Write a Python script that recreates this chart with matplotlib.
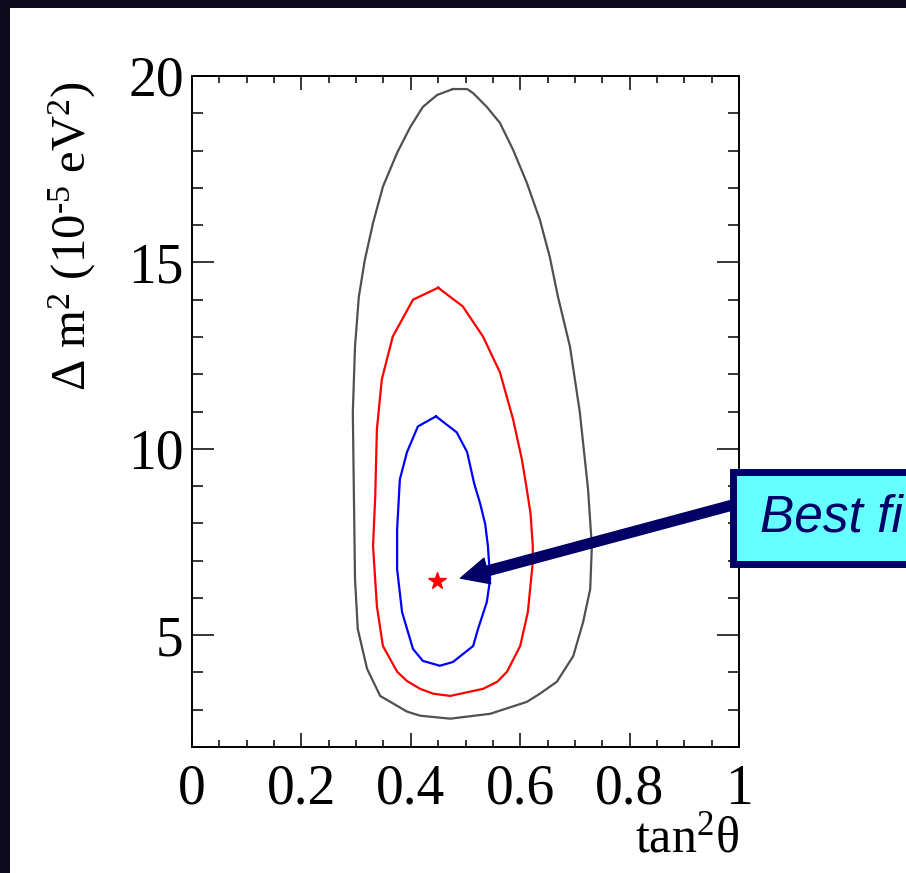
import numpy as np
import matplotlib
matplotlib.use("Agg")
import matplotlib.pyplot as plt
from matplotlib.patches import Rectangle, FancyArrowPatch, ArrowStyle
from matplotlib.ticker import MultipleLocator, FuncFormatter

plt.rcParams['font.family'] = ['Liberation Serif', 'DejaVu Serif']
plt.rcParams['mathtext.fontset'] = 'custom'
plt.rcParams['mathtext.rm'] = 'Liberation Serif'
plt.rcParams['mathtext.it'] = 'Liberation Serif:italic'
plt.rcParams['mathtext.default'] = 'rm'

# contour levels (tan^2 theta, dm^2 in 1e-5 eV^2)
gray_x = [0.477, 0.503, 0.514, 0.539, 0.563, 0.587, 0.612, 0.636, 0.654, 0.669, 0.691, 0.709,
          0.724, 0.731, 0.728, 0.715, 0.697, 0.667, 0.636, 0.612, 0.545, 0.472, 0.417, 0.393,
          0.344, 0.320, 0.303, 0.298, 0.296, 0.294, 0.298, 0.305, 0.316, 0.331, 0.349, 0.375,
          0.399, 0.422, 0.448]
gray_y = [19.65, 19.65, 19.54, 19.17, 18.74, 18.02, 17.14, 16.14, 15.15, 14.08, 12.74, 10.98,
          8.92, 7.39, 6.24, 5.35, 4.44, 3.75, 3.43, 3.21, 2.89, 2.76, 2.84, 2.95,
          3.37, 4.10, 5.17, 6.51, 8.73, 10.98, 12.74, 14.08, 15.07, 16.06, 17.03, 17.94,
          18.63, 19.17, 19.49]

red_x = [0.450, 0.495, 0.532, 0.563, 0.587, 0.603, 0.612, 0.619, 0.623, 0.623, 0.614, 0.600,
         0.576, 0.558, 0.532, 0.472, 0.441, 0.417, 0.393, 0.375, 0.349, 0.338, 0.331, 0.335,
         0.338, 0.347, 0.367, 0.404]
red_y = [14.32, 13.82, 13.01, 12.05, 10.79, 9.72, 8.92, 8.25, 7.39, 6.96, 5.62, 4.71,
         4.02, 3.75, 3.56, 3.37, 3.43, 3.56, 3.77, 4.02, 4.71, 5.78, 7.39, 8.73,
         10.52, 11.86, 13.01, 14.00]

blue_x = [0.446, 0.484, 0.503, 0.516, 0.527, 0.536, 0.541, 0.545, 0.539, 0.523, 0.514, 0.477,
          0.453, 0.422, 0.404, 0.384, 0.375, 0.375, 0.380, 0.393, 0.413]
blue_y = [10.87, 10.44, 9.91, 9.06, 8.52, 7.98, 7.39, 6.51, 5.89, 5.17, 4.71, 4.28,
          4.18, 4.31, 4.63, 5.62, 6.77, 7.84, 9.18, 9.91, 10.60]

best_x, best_y = 0.448, 6.45
arrow_tail = (0.993, 8.51)
arrow_tip = (0.486, 6.51)

W, H = 906, 873
fig = plt.figure(figsize=(W / 100, H / 100), dpi=100, facecolor='#0c0a1c')

# white panel on the dark background
fig.add_artist(Rectangle((10 / W, 0), 1, 1 - 8 / H, transform=fig.transFigure,
                         facecolor='white', edgecolor='none', zorder=-10))

ax = fig.add_axes([192 / W, 1 - 747 / H, 547 / W, 671 / H])
ax.set_facecolor('white')


def closed(xs, ys):
    return list(xs) + [xs[0]], list(ys) + [ys[0]]


for xs, ys, c in [(gray_x, gray_y, '#505050'), (red_x, red_y, '#ff0000'), (blue_x, blue_y, '#0000ff')]:
    cx, cy = closed(xs, ys)
    ax.plot(cx, cy, color=c, lw=1.6, solid_joinstyle='round')

ax.plot([best_x], [best_y], marker='*', color='red', ms=13, mec='red')

ax.set_xlim(0, 1)
ax.set_ylim(2, 20)
ax.xaxis.set_major_locator(MultipleLocator(0.2))
ax.xaxis.set_minor_locator(MultipleLocator(0.05))
ax.yaxis.set_major_locator(MultipleLocator(5))
ax.yaxis.set_minor_locator(MultipleLocator(1))
ax.xaxis.set_major_formatter(FuncFormatter(lambda v, p: '%g' % round(v, 2)))
ax.yaxis.set_major_formatter(FuncFormatter(lambda v, p: '%g' % v))

for s in ax.spines.values():
    s.set_linewidth(1.4)
ax.tick_params(axis='both', which='both', direction='in', top=True, right=True, width=1.1)
ax.tick_params(axis='x', which='major', length=10, pad=12, labelsize=40)
ax.tick_params(axis='x', which='minor', length=5)
ax.tick_params(axis='y', which='major', length=16, pad=6, labelsize=40)
ax.tick_params(axis='y', which='minor', length=8)

ax.text(1.0, -0.103, r'tan$^{2}\theta$', transform=ax.transAxes, ha='right', va='top', fontsize=36)
fig.text(72 / W, 1 - 236 / H, r'$\Delta$ m$^{2}$ (10$^{\text{-}5}$ eV$^{2}$)', rotation=90,
         ha='center', va='center', fontsize=35)

# arrow and label box
arr = FancyArrowPatch(arrow_tail, arrow_tip, transform=ax.transData,
                      arrowstyle=ArrowStyle.Simple(head_length=20, head_width=19, tail_width=7),
                      mutation_scale=1, color='#000066', clip_on=False, zorder=5)
ax.add_artist(arr)

fig.add_artist(Rectangle((732.5 / W, 1 - 563.5 / H), 0.5, 92 / H, transform=fig.transFigure,
                         facecolor='#66ffff', edgecolor='#000066', lw=5, zorder=6))
fig.text(760 / W, 1 - 532 / H, 'Best fi', family='Liberation Sans', style='italic',
         color='#000066', fontsize=37, ha='left', va='baseline', zorder=7)

fig.savefig('out.png', dpi=100, facecolor=fig.get_facecolor())
